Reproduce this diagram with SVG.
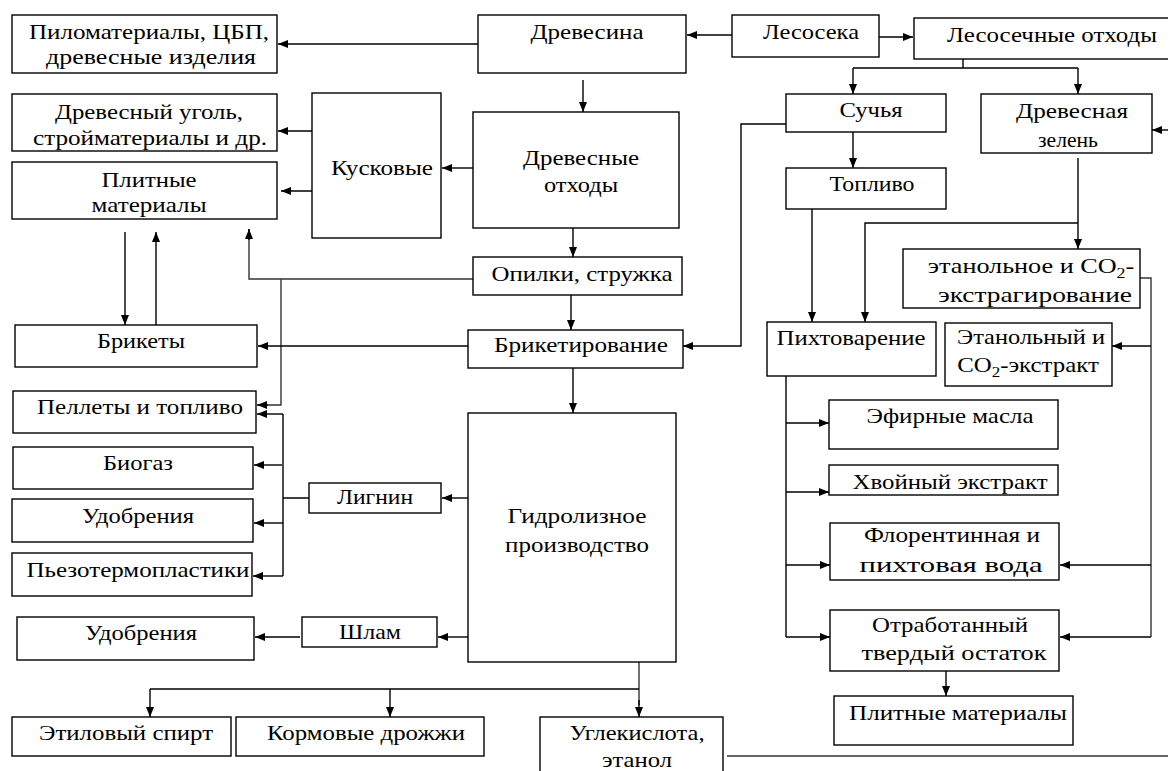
<svg xmlns="http://www.w3.org/2000/svg" width="1168" height="771" viewBox="0 0 1168 771">
<defs>
<style>
.b{fill:#fff;stroke:#000;stroke-width:1.4}
.t{font-family:"Liberation Serif","DejaVu Serif",serif;font-size:22px;fill:#000;text-anchor:middle}
.c{fill:none;stroke:#000;stroke-width:1.4}
.g{fill:none;stroke:#333;stroke-width:1.4}
</style>
<marker id="a" viewBox="0 0 10 10" refX="10" refY="5" markerWidth="10" markerHeight="10" markerUnits="userSpaceOnUse" orient="auto">
<path d="M0,1 L10,5 L0,9 Z" fill="#000"/>
</marker>
</defs>
<rect width="1168" height="771" fill="#fff"/>

<g id="connectors">
<path class="c" d="M478,44 H278" marker-end="url(#a)"/>
<path class="c" d="M732,35 H687" marker-end="url(#a)"/>
<path class="c" d="M879,37 H913" marker-end="url(#a)"/>
<path class="c" d="M963,59 V68 M853,68 H1078"/>
<path class="c" d="M853,68 V94" marker-end="url(#a)"/>
<path class="c" d="M1078,68 V94" marker-end="url(#a)"/>
<path class="c" d="M1168,130 H1152" marker-end="url(#a)"/>
<path class="c" d="M853,132 V168" marker-end="url(#a)"/>
<path class="c" d="M786,124 H741 V346 H683" marker-end="url(#a)"/>
<path class="c" d="M812,209 V322" marker-end="url(#a)"/>
<path class="c" d="M1078,158 V249" marker-end="url(#a)"/>
<path class="c" d="M1078,223 H865 V322" marker-end="url(#a)"/>
<path class="g" d="M1140,278 H1151 V637"/>
<path class="c" d="M1151,346 H1112" marker-end="url(#a)"/>
<path class="c" d="M1151,565 H1060" marker-end="url(#a)"/>
<path class="c" d="M1151,637 H1060" marker-end="url(#a)"/>
<path class="c" d="M583,80 V112" marker-end="url(#a)"/>
<path class="c" d="M473,168 H442" marker-end="url(#a)"/>
<path class="c" d="M312,131 H278" marker-end="url(#a)"/>
<path class="c" d="M315,191 H281" marker-end="url(#a)"/>
<path class="c" d="M573,228 V257" marker-end="url(#a)"/>
<path class="c" d="M571,295 V330" marker-end="url(#a)"/>
<path class="g" d="M473,279 H249 V229"/>
<path class="c" d="M249,240 V229" marker-end="url(#a)"/>
<path class="g" d="M281,279 V405 H258"/>
<path class="c" d="M268,405 H257" marker-end="url(#a)"/>
<path class="c" d="M125,232 V325" marker-end="url(#a)"/>
<path class="c" d="M156,325 V232" marker-end="url(#a)"/>
<path class="c" d="M468,346 H258" marker-end="url(#a)"/>
<path class="c" d="M573,368 V413" marker-end="url(#a)"/>
<path class="c" d="M468,498 H442" marker-end="url(#a)"/>
<path class="c" d="M309,498 H283 M283,414 V576"/>
<path class="c" d="M283,414 H257" marker-end="url(#a)"/>
<path class="c" d="M282,465 H254" marker-end="url(#a)"/>
<path class="c" d="M283,523 H254" marker-end="url(#a)"/>
<path class="c" d="M283,576 H253" marker-end="url(#a)"/>
<path class="c" d="M468,637 H438" marker-end="url(#a)"/>
<path class="c" d="M300,637 H255" marker-end="url(#a)"/>
<path class="g" d="M639,662 V705"/>
<path class="c" d="M639,700 V717" marker-end="url(#a)"/>
<path class="c" d="M150,689 H639"/>
<path class="c" d="M150,689 V717" marker-end="url(#a)"/>
<path class="c" d="M390,689 V717" marker-end="url(#a)"/>
<path class="c" d="M786,376 V637"/>
<path class="c" d="M786,423 H829" marker-end="url(#a)"/>
<path class="c" d="M786,492 H829" marker-end="url(#a)"/>
<path class="c" d="M786,565 H830" marker-end="url(#a)"/>
<path class="c" d="M786,637 H830" marker-end="url(#a)"/>
<path class="c" d="M946,671 V696" marker-end="url(#a)"/>
<path class="g" d="M727,756 H1168"/>
</g>

<g id="n-pilomaterialy"><rect class="b" x="12" y="15" width="265" height="58"/>
<text class="t" x="149" y="39" textLength="240" lengthAdjust="spacingAndGlyphs">Пиломатериалы, ЦБП,</text>
<text class="t" x="151" y="64" textLength="210" lengthAdjust="spacingAndGlyphs">древесные изделия</text></g>

<g id="n-drevesina"><rect class="b" x="478" y="15" width="208" height="58"/>
<text class="t" x="587" y="39" textLength="113" lengthAdjust="spacingAndGlyphs">Древесина</text></g>

<g id="n-lesoseka"><rect class="b" x="732" y="15" width="147" height="42"/>
<text class="t" x="811" y="39" textLength="96" lengthAdjust="spacingAndGlyphs">Лесосека</text></g>

<g id="n-lesosechnye"><rect class="b" x="914" y="18" width="256" height="41"/>
<text class="t" x="1052" y="42" textLength="210" lengthAdjust="spacingAndGlyphs">Лесосечные отходы</text></g>

<g id="n-ugol"><rect class="b" x="12" y="94" width="265" height="57"/>
<text class="t" x="149" y="119" textLength="188" lengthAdjust="spacingAndGlyphs">Древесный уголь,</text>
<text class="t" x="150" y="145" textLength="234" lengthAdjust="spacingAndGlyphs">стройматериалы и др.</text></g>

<g id="n-plitnye-left"><rect class="b" x="12" y="162" width="265" height="57"/>
<text class="t" x="149" y="187" textLength="95" lengthAdjust="spacingAndGlyphs">Плитные</text>
<text class="t" x="149" y="212" textLength="115" lengthAdjust="spacingAndGlyphs">материалы</text></g>

<g id="n-kuskovye"><rect class="b" x="312" y="93" width="129" height="145"/>
<text class="t" x="382" y="175" textLength="102" lengthAdjust="spacingAndGlyphs">Кусковые</text></g>

<g id="n-otkhody"><rect class="b" x="473" y="112" width="206" height="116"/>
<text class="t" x="581" y="165" textLength="116" lengthAdjust="spacingAndGlyphs">Древесные</text>
<text class="t" x="581" y="192" textLength="74" lengthAdjust="spacingAndGlyphs">отходы</text></g>

<g id="n-opilki"><rect class="b" x="473" y="257" width="209" height="38"/>
<text class="t" x="582" y="281" textLength="181" lengthAdjust="spacingAndGlyphs">Опилки, стружка</text></g>

<g id="n-briketirovanie"><rect class="b" x="468" y="330" width="215" height="38"/>
<text class="t" x="581" y="352" textLength="174" lengthAdjust="spacingAndGlyphs">Брикетирование</text></g>

<g id="n-gidroliz"><rect class="b" x="468" y="413" width="208" height="249"/>
<text class="t" x="577" y="523" textLength="139" lengthAdjust="spacingAndGlyphs">Гидролизное</text>
<text class="t" x="577" y="552" textLength="144" lengthAdjust="spacingAndGlyphs">производство</text></g>

<g id="n-brikety"><rect class="b" x="15" y="325" width="242" height="42"/>
<text class="t" x="141" y="348" textLength="88" lengthAdjust="spacingAndGlyphs">Брикеты</text></g>

<g id="n-pellety"><rect class="b" x="13" y="391" width="243" height="42"/>
<text class="t" x="140" y="414" textLength="206" lengthAdjust="spacingAndGlyphs">Пеллеты и топливо</text></g>

<g id="n-biogaz"><rect class="b" x="13" y="447" width="240" height="42"/>
<text class="t" x="138" y="470" textLength="70" lengthAdjust="spacingAndGlyphs">Биогаз</text></g>

<g id="n-udobreniya1"><rect class="b" x="12" y="499" width="241" height="43"/>
<text class="t" x="138" y="523" textLength="112" lengthAdjust="spacingAndGlyphs">Удобрения</text></g>

<g id="n-pezo"><rect class="b" x="12" y="553" width="240" height="43"/>
<text class="t" x="138" y="577" textLength="223" lengthAdjust="spacingAndGlyphs">Пьезотермопластики</text></g>

<g id="n-lignin"><rect class="b" x="309" y="483" width="132" height="30"/>
<text class="t" x="375" y="504" textLength="76" lengthAdjust="spacingAndGlyphs">Лигнин</text></g>

<g id="n-udobreniya2"><rect class="b" x="17" y="617" width="237" height="43"/>
<text class="t" x="141" y="640" textLength="112" lengthAdjust="spacingAndGlyphs">Удобрения</text></g>

<g id="n-shlam"><rect class="b" x="302" y="617" width="135" height="30"/>
<text class="t" x="370" y="639" textLength="62" lengthAdjust="spacingAndGlyphs">Шлам</text></g>

<g id="n-spirt"><rect class="b" x="12" y="717" width="219" height="39"/>
<text class="t" x="126" y="740" textLength="174" lengthAdjust="spacingAndGlyphs">Этиловый спирт</text></g>

<g id="n-drozhzhi"><rect class="b" x="236" y="717" width="248" height="39"/>
<text class="t" x="366" y="740" textLength="198" lengthAdjust="spacingAndGlyphs">Кормовые дрожжи</text></g>

<g id="n-uglekislota"><rect class="b" x="540" y="717" width="183" height="64"/>
<text class="t" x="637" y="740" textLength="135" lengthAdjust="spacingAndGlyphs">Углекислота,</text>
<text class="t" x="637" y="767" textLength="70" lengthAdjust="spacingAndGlyphs">этанол</text></g>

<g id="n-suchya"><rect class="b" x="786" y="94" width="160" height="38"/>
<text class="t" x="871" y="117" textLength="63" lengthAdjust="spacingAndGlyphs">Сучья</text></g>

<g id="n-zelen"><rect class="b" x="981" y="94" width="171" height="59"/>
<text class="t" x="1072" y="118" textLength="112" lengthAdjust="spacingAndGlyphs">Древесная</text>
<text class="t" x="1068" y="147" textLength="60" lengthAdjust="spacingAndGlyphs">зелень</text></g>

<g id="n-toplivo"><rect class="b" x="786" y="168" width="160" height="41"/>
<text class="t" x="872" y="191" textLength="85" lengthAdjust="spacingAndGlyphs">Топливо</text></g>

<g id="n-ekstragirovanie"><rect class="b" x="903" y="249" width="237" height="59"/>
<text class="t" transform="translate(1031,273) scale(1.19,1)">этанольное и CO<tspan dy="5" font-size="15">2</tspan><tspan dy="-5">-</tspan></text>
<text class="t" x="1035" y="302" textLength="194" lengthAdjust="spacingAndGlyphs">экстрагирование</text></g>

<g id="n-pikhtovarenie"><rect class="b" x="767" y="322" width="169" height="54"/>
<text class="t" x="851" y="345" textLength="149" lengthAdjust="spacingAndGlyphs">Пихтоварение</text></g>

<g id="n-ekstrakt"><rect class="b" x="945" y="323" width="167" height="63"/>
<text class="t" x="1031" y="344" textLength="148" lengthAdjust="spacingAndGlyphs">Этанольный и</text>
<text class="t" transform="translate(1028,372) scale(1.13,1)">CO<tspan dy="5" font-size="15">2</tspan><tspan dy="-5">-экстракт</tspan></text></g>

<g id="n-efirnye"><rect class="b" x="829" y="400" width="229" height="49"/>
<text class="t" x="950" y="423" textLength="167" lengthAdjust="spacingAndGlyphs">Эфирные масла</text></g>

<g id="n-khvoiny"><rect class="b" x="829" y="465" width="229" height="30"/>
<text class="t" x="950" y="489" textLength="195" lengthAdjust="spacingAndGlyphs">Хвойный экстракт</text></g>

<g id="n-florentinnaya"><rect class="b" x="830" y="523" width="229" height="57"/>
<text class="t" x="952" y="542" textLength="176" lengthAdjust="spacingAndGlyphs">Флорентинная и</text>
<text class="t" x="951" y="572" textLength="183" lengthAdjust="spacingAndGlyphs">пихтовая вода</text></g>

<g id="n-otrabotanny"><rect class="b" x="830" y="610" width="229" height="61"/>
<text class="t" x="950" y="632" textLength="156" lengthAdjust="spacingAndGlyphs">Отработанный</text>
<text class="t" x="954" y="660" textLength="185" lengthAdjust="spacingAndGlyphs">твердый остаток</text></g>

<g id="n-plitnye-right"><rect class="b" x="834" y="696" width="239" height="49"/>
<text class="t" x="958" y="720" textLength="218" lengthAdjust="spacingAndGlyphs">Плитные материалы</text></g>
</svg>
